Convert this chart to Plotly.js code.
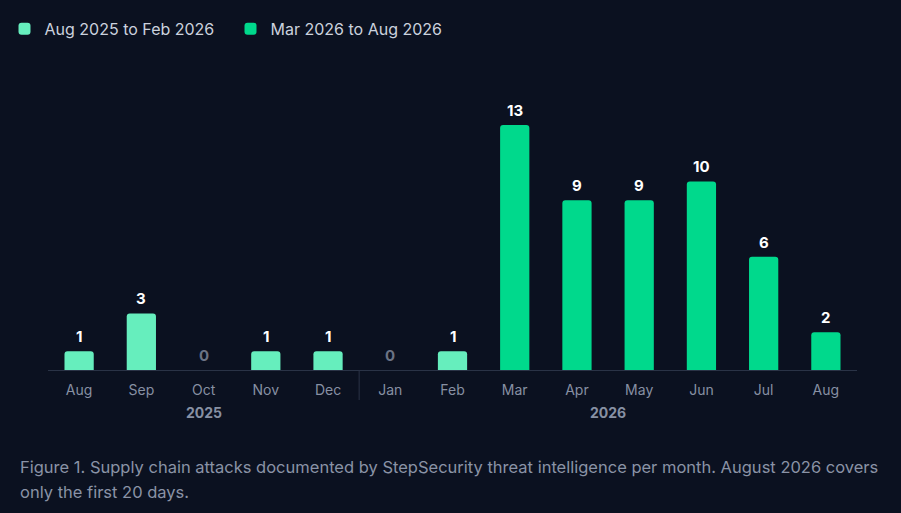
<!DOCTYPE html>
<html>
<head>
<meta charset="utf-8">
<script src="https://cdn.plot.ly/plotly-3.0.1.min.js"></script>
<style>
  html, body { margin: 0; padding: 0; background: #0b1120; }
  #chart { width: 901px; height: 513px; }
</style>
</head>
<body>
<div id="chart"></div>
<script>
// monthly counts
var months = ["Aug", "Sep", "Oct", "Nov", "Dec", "Jan", "Feb", "Mar", "Apr", "May", "Jun", "Jul", "Aug"];
var years = ["2025", "2025", "2025", "2025", "2025", "2026", "2026", "2026", "2026", "2026", "2026", "2026", "2026"];
var attacks = [1, 3, 0, 1, 1, 0, 1, 13, 9, 9, 10, 6, 2];
var periodNames = ["Aug 2025 to Feb 2026", "Mar 2026 to Aug 2026"];
var periodStart = [0, 7]; // first month index of each period

var caption = [
  "Figure 1. Supply chain attacks documented by StepSecurity threat intelligence per month. August 2026 covers",
  "only the first 20 days."
];

var bg = "#0b1120";
var colors = ["#66eebd", "#00d98c"];
var fontFam = "Inter, 'Liberation Sans', sans-serif";

var idx = months.map(function(m, i) { return i; });

// one bar trace per period
var traces = [];
for (var p = 0; p < periodNames.length; p++) {
  var a = periodStart[p];
  var b = p + 1 < periodStart.length ? periodStart[p + 1] : months.length;
  traces.push({
    type: "bar",
    name: periodNames[p],
    x: idx.slice(a, b),
    y: attacks.slice(a, b),
    marker: { color: colors[p], cornerradius: 3 },
    hoverinfo: "skip"
  });
}

var annotations = [];
// value labels above bars
for (var i = 0; i < attacks.length; i++) {
  annotations.push({
    x: i, y: attacks[i], xref: "x", yref: "y",
    text: "<b>" + attacks[i] + "</b>",
    showarrow: false, yanchor: "bottom", yshift: 3,
    font: { family: fontFam, size: 15, color: attacks[i] > 0 ? "#ffffff" : "#6b7385" }
  });
}

// year labels centred under their months, divider between years
var shapes = [];
var yearList = [];
years.forEach(function(y) { if (yearList.indexOf(y) < 0) yearList.push(y); });
yearList.forEach(function(y, k) {
  var first = years.indexOf(y), last = years.lastIndexOf(y);
  annotations.push({
    x: (first + last) / 2, y: 0, xref: "x", yref: "paper",
    text: "<b>" + y + "</b>", showarrow: false,
    yanchor: "middle", yshift: -42,
    font: { family: fontFam, size: 14, color: "#8790a3" }
  });
  if (k > 0) {
    shapes.push({
      type: "line", xref: "x", yref: "paper",
      x0: first - 0.5, x1: first - 0.5, y0: 0, y1: -30 / 270,
      line: { color: "#2a3346", width: 1 }
    });
  }
});

// caption lines
caption.forEach(function(line, k) {
  annotations.push({
    x: 0, y: 0, xref: "paper", yref: "paper",
    text: line, showarrow: false,
    xanchor: "left", yanchor: "middle",
    xshift: -30, yshift: -97 - 25 * k,
    font: { family: fontFam, size: 16.5, color: "#8a93a6" }
  });
});

var layout = {
  width: 901,
  height: 513,
  paper_bgcolor: bg,
  plot_bgcolor: bg,
  margin: { l: 48, r: 44, t: 100, b: 143 },
  barmode: "overlay",
  bargap: 0.53,
  showlegend: true,
  legend: {
    orientation: "h",
    xref: "container", yref: "container",
    x: 0.005, y: 0.977, xanchor: "left", yanchor: "top",
    entrywidth: 181, entrywidthmode: "pixels",
    font: { family: fontFam, size: 16, color: "#cbd2de" },
    bgcolor: "rgba(0,0,0,0)"
  },
  xaxis: {
    range: [-0.5, 12.5],
    tickmode: "array",
    tickvals: idx,
    ticktext: months,
    showgrid: false,
    zeroline: false,
    showline: true,
    linecolor: "#2a3346",
    linewidth: 1,
    ticks: "",
    ticklabelstandoff: 7,
    tickfont: { family: fontFam, size: 14, color: "#8790a3" },
    fixedrange: true
  },
  yaxis: {
    range: [0, 14.32],
    visible: false,
    showgrid: false,
    zeroline: false,
    fixedrange: true
  },
  annotations: annotations,
  shapes: shapes
};

Plotly.newPlot("chart", traces, layout, { displayModeBar: false, staticPlot: true });
</script>
</body>
</html>
